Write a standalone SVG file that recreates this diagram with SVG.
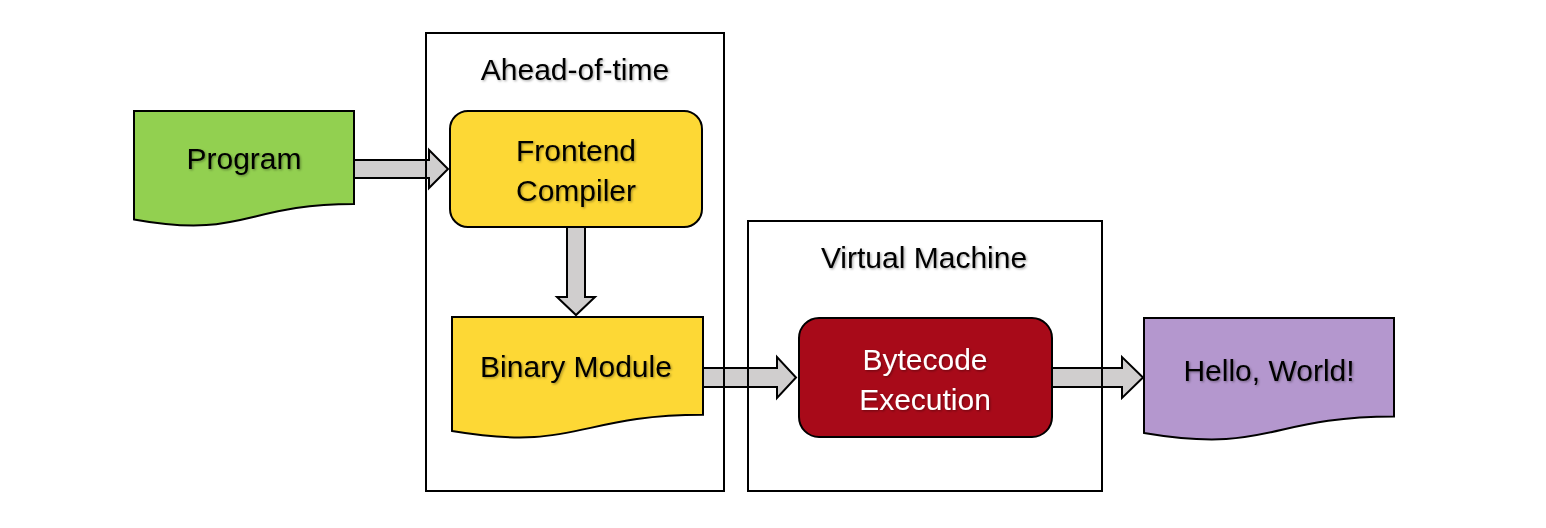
<svg xmlns="http://www.w3.org/2000/svg" width="1546" height="528" viewBox="0 0 1546 528">
<defs>
<filter id="ts" x="-10%" y="-30%" width="120%" height="160%">
<feDropShadow dx="1.2" dy="1.2" stdDeviation="1" flood-color="#000" flood-opacity="0.35"/>
</filter>
</defs>
<style>
text{font-family:"Liberation Sans",Arial,sans-serif;font-size:30px;text-anchor:middle;fill:#000;filter:url(#ts)}
.w{fill:#fff}
.shape{stroke:#000;stroke-width:2}
.arrow{fill:#D0CECE;stroke:#000;stroke-width:2;stroke-linejoin:miter}
.box{fill:none;stroke:#000;stroke-width:2}
</style>
<rect width="1546" height="528" fill="#fff"/>
<g id="connectors">
<polygon class="arrow" points="354,160 429,160 429,150 448,169 429,188 429,178 354,178"/>
<polygon class="arrow" points="567,227 585,227 585,297 595,297 576,315 557,297 567,297"/>
<polygon class="arrow" points="703,368 777,368 777,357 796,377.5 777,398 777,387 703,387"/>
<polygon class="arrow" points="1052,368 1122,368 1122,357 1143,377.5 1122,398 1122,387 1052,387"/>
</g>
<g id="aot">
<rect class="box" x="426" y="33" width="298" height="458"/>
<text x="575" y="80">Ahead-of-time</text>
</g>
<g id="vm">
<rect class="box" x="748" y="221" width="354" height="270"/>
<text x="924" y="268">Virtual Machine</text>
</g>
<g id="program">
<path class="shape" fill="#92D050" d="M134,111 H354 V204 C244,204 244,239.4 134,219.4 Z"/>
<text x="244" y="169">Program</text>
</g>
<g id="frontend">
<rect class="shape" fill="#FDD835" x="450" y="111" width="252" height="116" rx="18"/>
<text x="576" y="161">Frontend</text>
<text x="576" y="201">Compiler</text>
</g>
<g id="binary">
<path class="shape" fill="#FDD835" d="M452,317 H703 V414.8 C577.5,414.8 577.5,452 452,431 Z"/>
<text x="576" y="377">Binary Module</text>
</g>
<g id="bytecode">
<rect class="shape" fill="#A80A19" x="799" y="318" width="253" height="119" rx="20"/>
<text class="w" x="925" y="370">Bytecode</text>
<text class="w" x="925" y="410">Execution</text>
</g>
<g id="hello">
<path class="shape" fill="#B497CE" d="M1144,318 H1394 V416.6 C1269,416.6 1269,454.2 1144,432.9 Z"/>
<text x="1269" y="381">Hello, World!</text>
</g>
</svg>
